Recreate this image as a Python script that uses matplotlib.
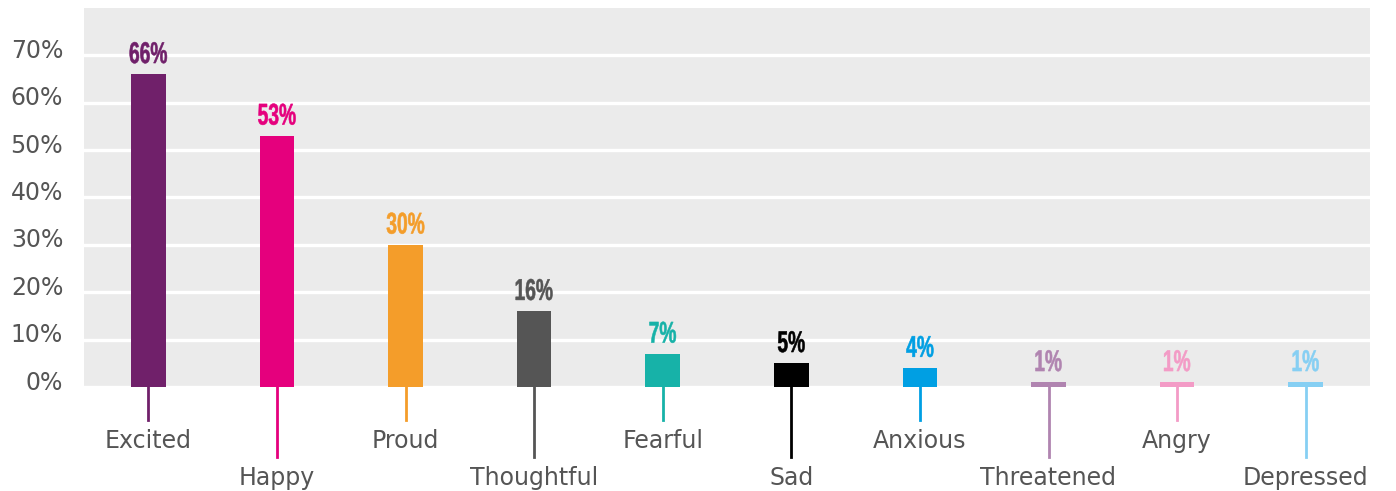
import numpy as np
import matplotlib.pyplot as plt
import matplotlib.transforms as mtransforms
from matplotlib.textpath import TextPath
from matplotlib.patches import PathPatch
from matplotlib.font_manager import FontProperties

# data
emotions = ['Excited', 'Happy', 'Proud', 'Thoughtful', 'Fearful',
            'Sad', 'Anxious', 'Threatened', 'Angry', 'Depressed']
shares = [66, 53, 30, 16, 7, 5, 4, 1, 1, 1]
colors = ['#70206A', '#E5007D', '#F49D2A', '#555555', '#17B2A8',
          '#000000', '#009FE3', '#B084B0', '#F39BC6', '#86CFF3']
yticks = [0, 10, 20, 30, 40, 50, 60, 70]

fig = plt.figure(figsize=(13.96, 4.91), dpi=100)
ax = fig.add_axes([84/1396, 1-387/491, (1370-84)/1396, (387-8)/491])
ax.set_facecolor('#EBEBEB')

x = np.arange(len(emotions))
ax.bar(x, shares, width=0.27, color=colors, zorder=3)

ax.set_xlim(-0.5, len(emotions)-0.5)
ax.set_ylim(0, 80)
ax.set_yticks(yticks)
ax.set_yticklabels([f'{v}%' for v in yticks])
ax.yaxis.grid(True, color='white', linewidth=2.4, zorder=1)
ax.set_axisbelow(True)
for s in ax.spines.values():
    s.set_visible(False)
ax.tick_params(axis='y', length=0, pad=15, labelsize=17, labelcolor='#555555')
ax.set_xticks([])
# tick labels sit a little above their gridlines
lift = mtransforms.ScaledTranslation(0, 7/100, fig.dpi_scale_trans)
for lab in ax.get_yticklabels():
    lab.set_transform(lab.get_transform() + lift)

# value labels: condensed bold look, built from a squeezed text path
fp = FontProperties(family=['Liberation Sans', 'DejaVu Sans'], weight='bold')
for xi, v, c in zip(x, shares, colors):
    tp = TextPath((0, 0), f'{v}%', size=30, prop=fp)
    ext = tp.get_extents()
    sx = 0.64
    tr = (mtransforms.Affine2D().translate(-(ext.x0 + ext.x1) / 2, -ext.y0)
          .scale(sx, 1.0).translate(0, 11)
          + mtransforms.ScaledTranslation(xi, v, ax.transData))
    ax.add_artist(PathPatch(tp, facecolor=c, edgecolor=c, linewidth=0.4,
                            transform=tr, clip_on=False, zorder=4))

# staggered category labels with leader lines
trans = mtransforms.blended_transform_factory(ax.transData, ax.transAxes)
h = 379.0
for i, (xi, name, c) in enumerate(zip(x, emotions, colors)):
    if i % 2 == 0:
        line_end, text_y = -33/h, -54/h
    else:
        line_end, text_y = -70/h, -91/h
    ax.plot([xi, xi], [0, line_end], color=c, lw=2, transform=trans, clip_on=False)
    ax.text(xi, text_y, name, transform=trans, ha='center', va='center',
            fontsize=17, color='#555555')

fig.savefig('out.png', dpi=100)
